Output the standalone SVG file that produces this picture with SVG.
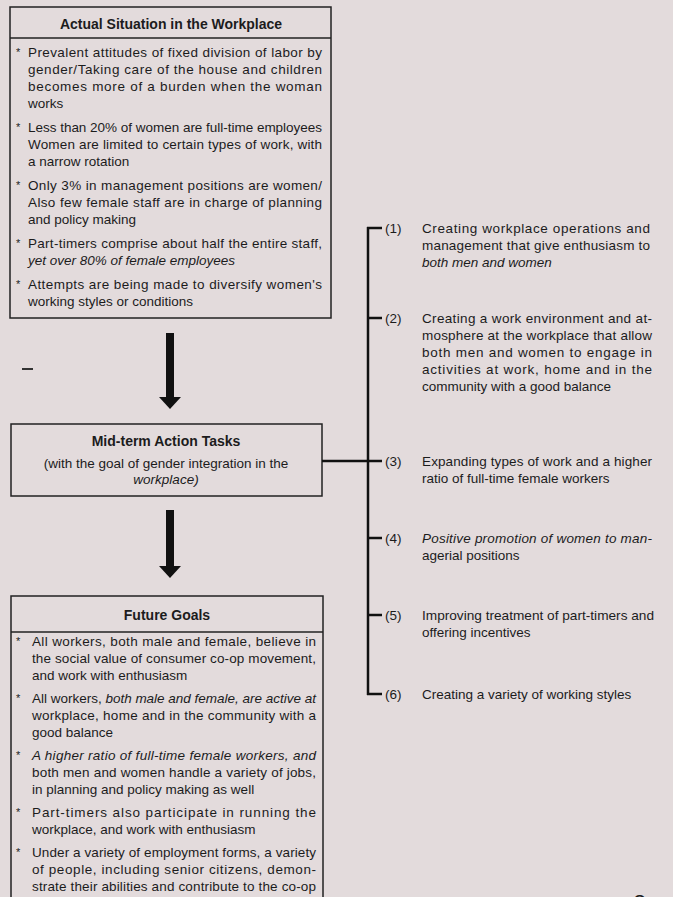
<svg xmlns="http://www.w3.org/2000/svg" width="673" height="897" viewBox="0 0 673 897">
  <defs>
    <style>
      .t { font-family: "Liberation Sans", Arial, sans-serif; font-size: 13.5px; fill: #1c1c1c; }
      .b { font-weight: bold; font-size: 14px; }
      .i { font-style: italic; }
      .bul { font-family: "Liberation Sans", Arial, sans-serif; font-size: 11px; fill: #1c1c1c; }
      .box { fill: none; stroke: #222; stroke-width: 1.5; }
      .thin { stroke: #222; stroke-width: 1.5; fill: none; }
      .arrow { stroke: #111; stroke-width: 8; fill: none; marker-end: url(#head); }
      .brk { stroke: #111; stroke-width: 2.5; fill: none; }
    </style>
    <marker id="head" viewBox="0 -11 12 22" refX="0" refY="0" markerWidth="12" markerHeight="22" markerUnits="userSpaceOnUse" orient="auto">
      <path d="M0,-11 L12,0 L0,11 z" fill="#111"/>
    </marker>
  </defs>

  <rect width="673" height="897" fill="#e3dbdc"/>

  <!-- Node: Actual Situation -->
  <g id="actual-situation">
    <rect class="box" x="10" y="7" width="321" height="311"/>
    <line class="thin" x1="10" y1="38" x2="331" y2="38"/>
    <text class="t b" x="171" y="29" text-anchor="middle">Actual Situation in the Workplace</text>
    <text class="bul" x="16" y="56">*</text>
    <text class="bul" x="16" y="131">*</text>
    <text class="bul" x="16" y="189">*</text>
    <text class="bul" x="16" y="247">*</text>
    <text class="bul" x="16" y="288">*</text>
    <text class="t" x="28" y="57" textLength="294" lengthAdjust="spacing">Prevalent attitudes of fixed division of labor by</text>
    <text class="t" x="28" y="74" textLength="294" lengthAdjust="spacing">gender/Taking care of the house and children</text>
    <text class="t" x="28" y="91" textLength="294" lengthAdjust="spacing">becomes more of a burden when the woman</text>
    <text class="t" x="28" y="108">works</text>
    <text class="t" x="28" y="132" textLength="294" lengthAdjust="spacing">Less than 20% of women are full-time employees</text>
    <text class="t" x="28" y="149" textLength="294" lengthAdjust="spacing">Women are limited to certain types of work, with</text>
    <text class="t" x="28" y="166">a narrow rotation</text>
    <text class="t" x="28" y="190" textLength="294" lengthAdjust="spacing">Only 3% in management positions are women/</text>
    <text class="t" x="28" y="207" textLength="294" lengthAdjust="spacing">Also few female staff are in charge of planning</text>
    <text class="t" x="28" y="224">and policy making</text>
    <text class="t" x="28" y="248" textLength="294" lengthAdjust="spacing">Part-timers comprise about half the entire staff,</text>
    <text class="t i" x="28" y="265">yet over 80% of female employees</text>
    <text class="t" x="28" y="289" textLength="294" lengthAdjust="spacing">Attempts are being made to diversify women's</text>
    <text class="t" x="28" y="306">working styles or conditions</text>
  </g>

  <!-- stray mark -->
  <line x1="22" y1="369" x2="33" y2="369" stroke="#333" stroke-width="2"/>

  <!-- Node: Mid-term Action Tasks -->
  <g id="mid-term">
    <rect class="box" x="11" y="424" width="311" height="72"/>
    <text class="t b" x="166" y="446" text-anchor="middle">Mid-term Action Tasks</text>
    <text class="t" x="166" y="468" text-anchor="middle">(with the goal of gender integration in the</text>
    <text class="t i" x="166" y="484" text-anchor="middle">workplace)</text>
  </g>

  <!-- Node: Future Goals -->
  <g id="future-goals">
    <rect class="box" x="11" y="596" width="312" height="330"/>
    <line class="thin" x1="11" y1="632" x2="323" y2="632"/>
    <text class="t b" x="167" y="620" text-anchor="middle">Future Goals</text>
    <text class="bul" x="16" y="645">*</text>
    <text class="bul" x="16" y="702">*</text>
    <text class="bul" x="16" y="759">*</text>
    <text class="bul" x="16" y="816">*</text>
    <text class="bul" x="16" y="856">*</text>
    <text class="t" x="32" y="646" textLength="284" lengthAdjust="spacing">All workers, both male and female, believe in</text>
    <text class="t" x="32" y="663" textLength="284" lengthAdjust="spacing">the social value of consumer co-op movement,</text>
    <text class="t" x="32" y="680">and work with enthusiasm</text>
    <text class="t" x="32" y="703" textLength="284" lengthAdjust="spacing">All workers, <tspan class="i">both male and female, are active at</tspan></text>
    <text class="t" x="32" y="720" textLength="284" lengthAdjust="spacing">workplace, home and in the community with a</text>
    <text class="t" x="32" y="737">good balance</text>
    <text class="t i" x="32" y="760" textLength="284" lengthAdjust="spacing">A higher ratio of full-time female workers, and</text>
    <text class="t" x="32" y="777" textLength="284" lengthAdjust="spacing">both men and women handle a variety of jobs,</text>
    <text class="t" x="32" y="794">in planning and policy making as well</text>
    <text class="t" x="32" y="817" textLength="284" lengthAdjust="spacing">Part-timers also participate in running the</text>
    <text class="t" x="32" y="834">workplace, and work with enthusiasm</text>
    <text class="t" x="32" y="857" textLength="284" lengthAdjust="spacing">Under a variety of employment forms, a variety</text>
    <text class="t" x="32" y="874" textLength="284" lengthAdjust="spacing">of people, including senior citizens, demon-</text>
    <text class="t" x="32" y="891" textLength="284" lengthAdjust="spacing">strate their abilities and contribute to the co-op</text>
  </g>

  <!-- Right column items -->
  <g id="item-1">
    <text class="t" x="385" y="233">(1)</text>
    <text class="t" x="422" y="233" textLength="228" lengthAdjust="spacing">Creating workplace operations and</text>
    <text class="t" x="422" y="250" textLength="228" lengthAdjust="spacing">management that give enthusiasm to</text>
    <text class="t i" x="422" y="267">both men and women</text>
  </g>
  <g id="item-2">
    <text class="t" x="385" y="323">(2)</text>
    <text class="t" x="422" y="323" textLength="230" lengthAdjust="spacing">Creating a work environment and at-</text>
    <text class="t" x="422" y="340" textLength="230" lengthAdjust="spacing">mosphere at the workplace that allow</text>
    <text class="t" x="422" y="357" textLength="230" lengthAdjust="spacing">both men and women to engage in</text>
    <text class="t" x="422" y="374" textLength="230" lengthAdjust="spacing">activities at work, home and in the</text>
    <text class="t" x="422" y="391">community with a good balance</text>
  </g>
  <g id="item-3">
    <text class="t" x="385" y="466">(3)</text>
    <text class="t" x="422" y="466" textLength="230" lengthAdjust="spacing">Expanding types of work and a higher</text>
    <text class="t" x="422" y="483">ratio of full-time female workers</text>
  </g>
  <g id="item-4">
    <text class="t" x="385" y="543">(4)</text>
    <text class="t i" x="422" y="543" textLength="230" lengthAdjust="spacing">Positive promotion of women to man-</text>
    <text class="t" x="422" y="560">agerial positions</text>
  </g>
  <g id="item-5">
    <text class="t" x="385" y="620">(5)</text>
    <text class="t" x="422" y="620" textLength="232" lengthAdjust="spacingAndGlyphs">Improving treatment of part-timers and</text>
    <text class="t" x="422" y="637">offering incentives</text>
  </g>
  <g id="item-6">
    <text class="t" x="385" y="699">(6)</text>
    <text class="t" x="422" y="699">Creating a variety of working styles</text>
  </g>

  <!-- Connectors -->
  <g id="connectors">
    <line class="arrow" x1="170" y1="333" x2="170" y2="397"/>
    <line class="arrow" x1="170" y1="510" x2="170" y2="566"/>
    <line class="brk" x1="368" y1="227" x2="368" y2="695"/>
    <line class="brk" x1="322" y1="461" x2="382" y2="461"/>
    <line class="brk" x1="367" y1="228" x2="382" y2="228"/>
    <line class="brk" x1="368" y1="318" x2="382" y2="318"/>
    <line class="brk" x1="368" y1="538" x2="382" y2="538"/>
    <line class="brk" x1="368" y1="615" x2="382" y2="615"/>
    <line class="brk" x1="367" y1="694" x2="382" y2="694"/>
  </g>

  <!-- page number, cut off at bottom -->
  <text class="t" x="633" y="912" style="font-size:24px">8</text>
</svg>
